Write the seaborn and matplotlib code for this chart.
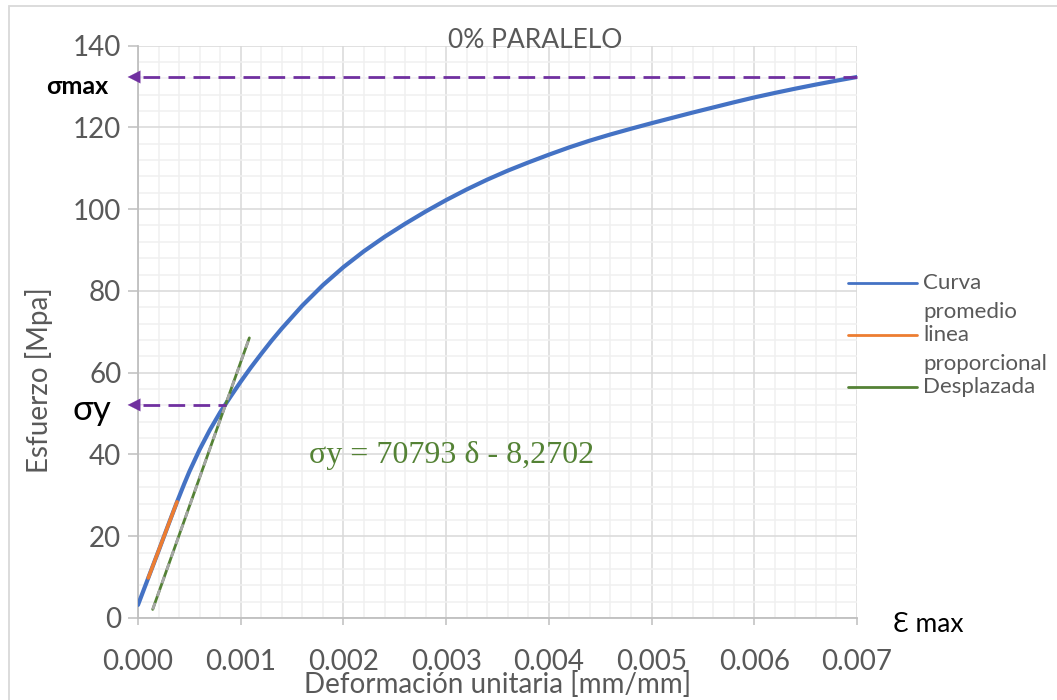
import numpy as np
import pandas as pd
import matplotlib
matplotlib.use("Agg")
import matplotlib.pyplot as plt
from matplotlib.lines import Line2D
from matplotlib.patches import Rectangle
from matplotlib.ticker import MultipleLocator, FormatStrFormatter
import seaborn as sns

# ---- data ----
curve_strain = [0.0, 0.0001, 0.0002, 0.0003, 0.00038, 0.00045, 0.0005, 0.0006, 0.0007,
                0.0008, 0.0009, 0.001, 0.0011, 0.0012, 0.0013, 0.0014, 0.0016, 0.0018,
                0.002, 0.0022, 0.0024, 0.0026, 0.0028, 0.003, 0.0032, 0.0034, 0.0036,
                0.0038, 0.004, 0.0042, 0.0044, 0.0046, 0.0048, 0.005, 0.0052, 0.0054,
                0.0056, 0.0058, 0.006, 0.0062, 0.0064, 0.0066, 0.0068, 0.007]
curve_stress = [3.2, 9.8, 16.4, 23.1, 28.4, 32.8, 35.8, 41.2, 46.0,
                50.3, 54.1, 57.8, 61.3, 64.6, 67.8, 70.8, 76.4, 81.4,
                85.8, 89.7, 93.2, 96.4, 99.4, 102.2, 104.8, 107.2, 109.4,
                111.4, 113.3, 115.1, 116.75, 118.25, 119.65, 121.0, 122.3, 123.6,
                124.85, 126.1, 127.3, 128.4, 129.45, 130.45, 131.4, 132.3]
prop_strain = [0.0001, 0.00038]
prop_stress = [9.8, 28.4]
offset_strain = [0.000143, 0.001084]
offset_stress = [2.1, 68.5]
sigma_max = 132.3
sigma_y = 52.1
eps_y = 0.00086
x_ticks = [0.000, 0.001, 0.002, 0.003, 0.004, 0.005, 0.006, 0.007]
y_ticks = [0, 20, 40, 60, 80, 100, 120, 140]
legend_labels = ["Curva\npromedio", "linea\nproporcional", "Desplazada"]

BLUE = "#4472C4"
ORANGE = "#ED7D31"
GREEN = "#548235"
PURPLE = "#7030A0"
GRAY_TXT = "#595959"

sns.set_theme(style="white")
plt.rcParams["font.family"] = ["Lato", "DejaVu Sans"]

W, H = 1057, 700
fig = plt.figure(figsize=(W / 100, H / 100), dpi=100)
ax = fig.add_axes([138 / W, 1 - 618 / H, (857 - 138) / W, (618 - 45.5) / H])

df_curve = pd.DataFrame({"x": curve_strain, "y": curve_stress})
df_prop = pd.DataFrame({"x": prop_strain, "y": prop_stress})
df_off = pd.DataFrame({"x": offset_strain, "y": offset_stress})

ax.set_xlim(x_ticks[0], x_ticks[-1])
ax.set_ylim(y_ticks[0], y_ticks[-1])
ax.xaxis.set_major_locator(MultipleLocator(0.001))
ax.xaxis.set_minor_locator(MultipleLocator(0.0002))
ax.yaxis.set_major_locator(MultipleLocator(20))
ax.yaxis.set_minor_locator(MultipleLocator(4))
ax.xaxis.set_major_formatter(FormatStrFormatter("%.3f"))
ax.grid(True, which="major", color="#d9d9d9", lw=1.1, zorder=0)
ax.grid(True, which="minor", color="#f0f0f0", lw=1.1, zorder=0)
ax.set_axisbelow(True)

sns.lineplot(data=df_curve, x="x", y="y", ax=ax, color=BLUE, lw=3.0, zorder=3,
             sort=False, estimator=None, solid_joinstyle="round", solid_capstyle="round")
sns.lineplot(data=df_prop, x="x", y="y", ax=ax, color=ORANGE, lw=2.6, zorder=4,
             sort=False, estimator=None)
sns.lineplot(data=df_off, x="x", y="y", ax=ax, color=GREEN, lw=2.0, zorder=4,
             sort=False, estimator=None)
ax.plot(offset_strain, offset_stress, color="#a6a6a6", lw=2.0, ls=(0, (2.5, 2.5)), zorder=5)

# arrows
for y_level, x_end in [(sigma_max, curve_strain[-1]), (sigma_y, eps_y)]:
    ax.plot([0.00005, x_end], [y_level, y_level], color=PURPLE, lw=2.0,
            ls=(0, (6, 3)), zorder=6, clip_on=False)
    ax.annotate("", xy=(-0.0001, y_level), xytext=(0.00006, y_level),
                arrowprops=dict(arrowstyle="-|>,head_length=0.75,head_width=0.38",
                                color=PURPLE, lw=0.1, shrinkA=0, shrinkB=0),
                annotation_clip=False, zorder=7)

for s in ["top", "right"]:
    ax.spines[s].set_visible(False)
for s in ["left", "bottom"]:
    ax.spines[s].set_color("#bfbfbf")
    ax.spines[s].set_linewidth(1.3)

ax.tick_params(axis="y", which="major", direction="out", length=7, width=1.1,
               color="#bfbfbf", labelsize=20, labelcolor=GRAY_TXT, pad=5, left=True)
ax.tick_params(axis="x", which="major", direction="out", length=5, width=1.1,
               color="#bfbfbf", labelsize=20, labelcolor=GRAY_TXT, pad=17, bottom=True)
ax.tick_params(which="minor", length=0)

ax.set_xlabel("Deformación unitaria [mm/mm]", fontsize=20, color=GRAY_TXT)
ax.set_ylabel("Esfuerzo [Mpa]", fontsize=20, color=GRAY_TXT)
ax.xaxis.set_label_coords(0.5, -0.092)
ax.yaxis.set_label_coords(-0.118, 0.415)

# texts
fig.text(535 / W, 1 - 40 / H, "0% PARALELO", ha="center", va="center",
         fontsize=19, color=GRAY_TXT)
fig.text(77 / W, 1 - 87 / H, "σmax", ha="center", va="center", fontsize=18,
         fontweight="bold", color="black")
fig.text(92 / W, 1 - 410 / H, "σy", ha="center", va="center", fontsize=25, color="black")
fig.text(893 / W, 1 - 624 / H, "Ɛ max", ha="left", va="center", fontsize=19,
         color="black")
fig.text(452 / W, 1 - 456 / H, "σy = 70793 δ - 8,2702", ha="center", va="center",
         fontsize=23, color=GREEN, family=["Liberation Serif", "DejaVu Serif"])

# legend (drawn manually)
leg_colors = [BLUE, ORANGE, GREEN]
leg_y = [283, 335, 387]
for c, yy, lab in zip(leg_colors, leg_y, legend_labels):
    fig.add_artist(Line2D([848 / W, 917 / W], [1 - yy / H, 1 - yy / H], color=c, lw=2.0,
                          transform=fig.transFigure))
    for i, part in enumerate(lab.split("\n")):
        fig.text(923 / W, 1 - (yy + 29 * i) / H, part, ha="left", va="center",
                 fontsize=16, color=GRAY_TXT)

fig.add_artist(Rectangle((9 / W, -0.1), 1.2, 1.1 - 6 / H, transform=fig.transFigure,
                         fill=False, edgecolor="#d9d9d9", lw=1.3))

fig.savefig("out.png", dpi=100)
